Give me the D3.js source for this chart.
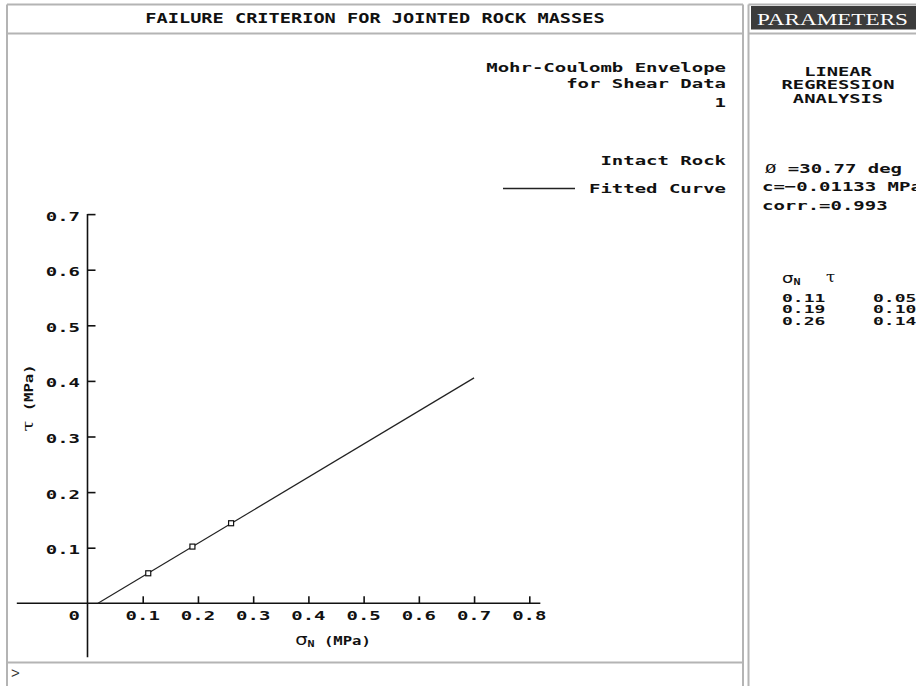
<!DOCTYPE html>
<html>
<head>
<meta charset="utf-8">
<script src="https://cdn.jsdelivr.net/npm/d3@7"></script>
<style>
  html, body { margin: 0; padding: 0; background: #fff; }
  svg { display: block; }
</style>
</head>
<body>
<svg id="chart" width="916" height="686"></svg>
<script>
// Shear test data (normal stress / shear stress, MPa)
const sigmaN = [0.11, 0.19, 0.26];
const tau = [0.054, 0.102, 0.144];

// Linear regression result
const phiDeg = 30.77;
const cohesion = -0.01133;
const corrCoef = 0.993;
const fitSigmaRange = [0.019, 0.70];

// Axis ticks
const xTicks = [0.1, 0.2, 0.3, 0.4, 0.5, 0.6, 0.7, 0.8];
const yTicks = [0.1, 0.2, 0.3, 0.4, 0.5, 0.6, 0.7];
const xAxisExtent = [-0.128, 0.82];
const yAxisExtent = [-0.097, 0.70];

// Text blocks
const titleText = "FAILURE CRITERION FOR JOINTED ROCK MASSES";
const panelTitle = "PARAMETERS";
const chartNote = ["Mohr-Coulomb Envelope", "for Shear Data", "1"];
const legendItems = ["Intact Rock", "Fitted Curve"];
const analysisTitle = ["LINEAR", "REGRESSION", "ANALYSIS"];

const svg = d3.select("#chart");
const BORDER = "#b4b4b4";
const MONO = "'DejaVu Sans Mono', 'Liberation Mono', monospace";

// Widened monospace text; y is the baseline
function mono(parent, str, x, y, o = {}) {
  const size = o.size || 13;
  const sx = o.sx || 1.46;
  const rot = o.rotate ? ` rotate(${o.rotate})` : "";
  return parent.append("text")
    .attr("transform", `translate(${x},${y})${rot} scale(${sx},1)`)
    .attr("text-anchor", o.anchor || "start")
    .attr("font-family", MONO)
    .attr("font-size", size)
    .attr("font-weight", o.weight || "bold")
    .attr("fill", o.fill || "#111")
    .text(str);
}

// ---------- frames ----------
const frame = svg.append("g").attr("fill", "none").attr("stroke", BORDER).attr("stroke-width", 2);
frame.append("line").attr("x1", 7).attr("y1", 4.5).attr("x2", 743).attr("y2", 4.5);
frame.append("line").attr("x1", 7).attr("y1", 33.5).attr("x2", 743).attr("y2", 33.5);
frame.append("line").attr("x1", 7).attr("y1", 4.5).attr("x2", 7).attr("y2", 686);
frame.append("line").attr("x1", 743).attr("y1", 4.5).attr("x2", 743).attr("y2", 686);
frame.append("line").attr("x1", 7).attr("y1", 662.5).attr("x2", 743).attr("y2", 662.5);
frame.append("line").attr("x1", 748.5).attr("y1", 4.5).attr("x2", 748.5).attr("y2", 686);
frame.append("line").attr("x1", 748.5).attr("y1", 4.5).attr("x2", 916).attr("y2", 4.5);
frame.append("line").attr("x1", 748.5).attr("y1", 33.5).attr("x2", 916).attr("y2", 33.5);

// title bar
mono(svg, titleText, 375, 22.5, { anchor: "middle", size: 13.5, sx: 1.38 });

// parameters header
svg.append("rect").attr("x", 751).attr("y", 6).attr("width", 165).attr("height", 23.5).attr("fill", "#3c3c3c");
svg.append("text")
  .attr("x", 757).attr("y", 24.5)
  .attr("font-family", "'Liberation Serif', 'DejaVu Serif', serif")
  .attr("font-size", 17)
  .attr("fill", "#fff")
  .attr("textLength", 151)
  .attr("lengthAdjust", "spacingAndGlyphs")
  .text(panelTitle);

// command prompt
svg.append("text").attr("x", 11).attr("y", 678)
  .attr("font-family", "'Liberation Sans', sans-serif").attr("font-size", 15)
  .attr("fill", "#333").text(">");

// ---------- plot ----------
const x = d3.scaleLinear().domain([0, 0.8]).range([87.5, 529.3]);
const y = d3.scaleLinear().domain([0, 0.7]).range([603.3, 214.1]);
const plot = svg.append("g");

// axis lines (extend past the origin)
plot.append("line")
  .attr("x1", x(xAxisExtent[0])).attr("x2", x(xAxisExtent[1]))
  .attr("y1", y(0)).attr("y2", y(0))
  .attr("stroke", "#111").attr("stroke-width", 1.6);
plot.append("line")
  .attr("x1", x(0)).attr("x2", x(0))
  .attr("y1", y(yAxisExtent[0])).attr("y2", y(yAxisExtent[1]))
  .attr("stroke", "#111").attr("stroke-width", 1.6);

// ticks through d3 axes, labels drawn separately
const xAxis = plot.append("g").attr("transform", `translate(0,${y(0)})`)
  .call(d3.axisBottom(x).tickValues(xTicks).tickSizeInner(-7).tickSizeOuter(0).tickFormat(""));
const yAxis = plot.append("g").attr("transform", `translate(${x(0)},0)`)
  .call(d3.axisLeft(y).tickValues(yTicks).tickSizeInner(-8).tickSizeOuter(0).tickFormat(""));
[xAxis, yAxis].forEach(a => {
  a.select(".domain").remove();
  a.selectAll(".tick line").attr("stroke", "#111").attr("stroke-width", 1.6);
});

const fmt1 = d3.format(".1f");
xTicks.forEach(v => mono(plot, fmt1(v), x(v), 619.5, { anchor: "middle" }));
mono(plot, "0", 80, 619.5, { anchor: "end" });
yTicks.forEach(v => mono(plot, fmt1(v), 80, y(v) + 6.5, { anchor: "end" }));

// axis titles
const xl = mono(plot, "", 333, 645, { anchor: "middle", size: 12, sx: 1.3 });
xl.append("tspan").attr("font-family", "'DejaVu Sans', sans-serif").attr("font-weight", "normal").attr("font-size", 15).text("σ");
xl.append("tspan").attr("font-size", 9).attr("dy", 2).text("N");
xl.append("tspan").attr("dy", -2).text(" (MPa)");

const yl = mono(plot, "", 33, 398, { anchor: "middle", size: 12, sx: 1.3, rotate: -90 });
yl.append("tspan").attr("font-family", "'DejaVu Serif', serif").attr("font-weight", "normal").attr("font-size", 15).text("τ");
yl.append("tspan").text(" (MPa)");

// fitted Mohr-Coulomb line
const tanPhi = Math.tan(phiDeg * Math.PI / 180);
const fitLine = fitSigmaRange.map(s => [s, tanPhi * s + cohesion]);
plot.append("path")
  .datum(fitLine)
  .attr("fill", "none").attr("stroke", "#222").attr("stroke-width", 1.2)
  .attr("d", d3.line().x(d => x(d[0])).y(d => y(d[1])));

// data points
plot.selectAll("rect.pt")
  .data(sigmaN.map((s, i) => [s, tau[i]]))
  .join("rect").attr("class", "pt")
  .attr("x", d => x(d[0]) - 2.5).attr("y", d => y(d[1]) - 2.5)
  .attr("width", 5).attr("height", 5)
  .attr("fill", "#fff").attr("stroke", "#111").attr("stroke-width", 1.2);

// notes and legend
chartNote.forEach((t, i) => mono(svg, t, 726, [71.5, 88, 107][i], { anchor: "end" }));
mono(svg, legendItems[0], 726, 165, { anchor: "end" });
mono(svg, legendItems[1], 726, 193, { anchor: "end" });
svg.append("line").attr("x1", 503).attr("x2", 575).attr("y1", 188.5).attr("y2", 188.5)
  .attr("stroke", "#222").attr("stroke-width", 1.4);

// ---------- regression panel ----------
const panel = svg.append("g");
analysisTitle.forEach((t, i) => mono(panel, t, 838, 75.5 + i * 13.5, { anchor: "middle", size: 11.5, sx: 1.63 }));

const f2 = d3.format(".2f");
const phiLine = mono(panel, "", 765, 173);
phiLine.append("tspan").attr("font-weight", "normal").text("Ø");
phiLine.append("tspan").text(" =" + f2(phiDeg) + " deg");
mono(panel, "c=" + d3.format(".5f")(cohesion) + " MPa", 762, 191);
mono(panel, "corr.=" + d3.format(".3f")(corrCoef), 762, 209.5);

const hdr = mono(panel, "", 782, 283, { size: 11, sx: 1.3 });
hdr.append("tspan").attr("font-family", "'DejaVu Sans', sans-serif").attr("font-weight", "normal").attr("font-size", 14).text("σ");
hdr.append("tspan").attr("font-size", 9).attr("dy", 2).text("N");
mono(panel, "τ", 826, 282, { size: 15, sx: 1.1, weight: "normal" })
  .attr("font-family", "'DejaVu Serif', serif");

sigmaN.forEach((s, i) => {
  const by = 302 + i * 11.3;
  mono(panel, f2(s), 782, by, { size: 10, sx: 1.8 });
  mono(panel, f2(tau[i]), 873, by, { size: 10, sx: 1.8 });
});
</script>
</body>
</html>
